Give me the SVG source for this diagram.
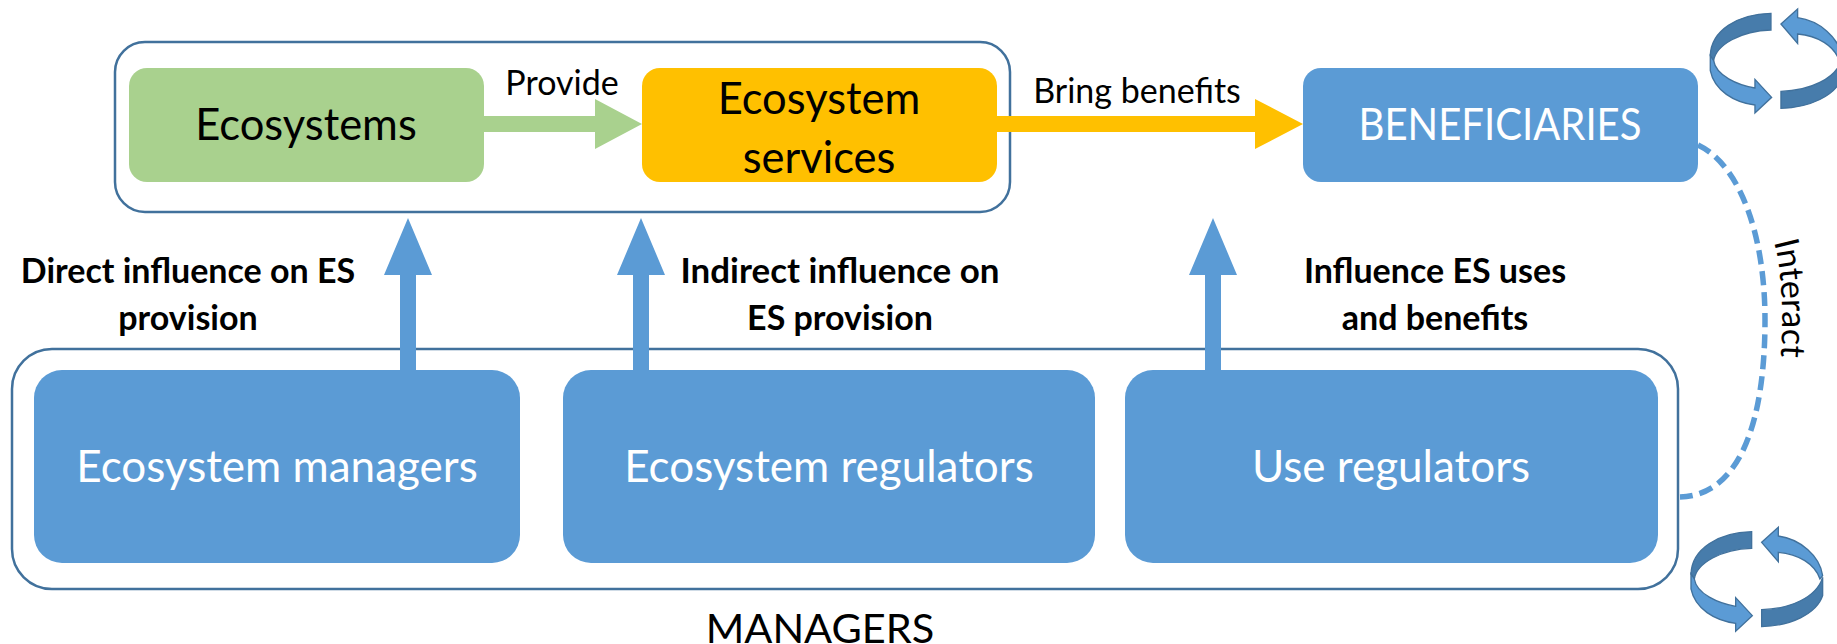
<svg xmlns="http://www.w3.org/2000/svg" xmlns:xlink="http://www.w3.org/1999/xlink" width="1837" height="644" viewBox="0 0 1837 644">
<style>
text{font-family:Lato,Carlito,"Open Sans",sans-serif;text-anchor:middle}
.outer{fill:#fff;stroke:#41719c;stroke-width:2.5}
.blue{fill:#5b9bd5}
.big{font-size:43.5px;fill:#000}
.wh{font-size:44px;fill:#fff}
.lab{font-size:34px;fill:#000}
.bold{font-size:34px;font-weight:700;fill:#000}
.dk{fill:#477cab;stroke:#41719c;stroke-width:4}
.lt{fill:#5b9bd5;stroke:#41719c;stroke-width:4}
</style>
<defs>
<g id="cycle">
<path class="dk" d="M335 53C235 55 155 105 153 180L163 195C170 148 245 105 335 103Z"/>
<path class="lt" d="M153 180L153 225C165 285 225 320 287 328L287 352L337 305L287 251L287 277C235 268 170 240 163 195Z"/>
<path class="dk" d="M365 287C450 285 530 250 548 190L548 245C530 300 450 336 365 338Z"/>
<path class="lt" d="M365 85L415 40L415 66C480 75 540 125 548 185L540 195C525 150 475 120 415 115L415 143Z"/>
</g>
</defs>
<g id="providers-frame"><rect class="outer" x="115" y="42" width="895" height="170" rx="30"/></g>
<g id="managers-frame"><rect class="outer" x="12" y="349" width="1666" height="240" rx="40"/></g>
<g id="connectors">
<path fill="#a9d18e" d="M484 116H595V99L642 124L595 149V132H484Z"/>
<path fill="#ffc000" d="M997 116H1255V99L1303 124L1255 149V132H997Z"/>
<path class="blue" d="M400 372V275H384L408 218L432 275H416V372Z"/>
<path class="blue" d="M633 372V275H617L641 218L665 275H649V372Z"/>
<path class="blue" d="M1205 372V275H1189L1213 218L1237 275H1221V372Z"/>
<path d="M1698 145C1740 165 1765 235 1765 320C1765 410 1745 495 1680 497" fill="none" stroke="#5b9bd5" stroke-width="5.5" stroke-dasharray="14 7"/>
</g>
<g id="ecosystems"><rect x="129" y="68" width="355" height="114" rx="18" fill="#a9d18e"/><text class="big" x="306" y="140">Ecosystems</text></g>
<g id="ecosystem-services"><rect x="642" y="68" width="355" height="114" rx="18" fill="#ffc000"/><text class="big" x="819" y="114">Ecosystem</text><text class="big" x="819" y="173">services</text></g>
<g id="beneficiaries"><rect class="blue" x="1303" y="68" width="395" height="114" rx="18"/><text class="wh" x="1500" y="140" textLength="283" lengthAdjust="spacingAndGlyphs">BENEFICIARIES</text></g>
<g id="ecosystem-managers"><rect class="blue" x="34" y="370" width="486" height="193" rx="28"/><text class="wh" x="277" y="482">Ecosystem managers</text></g>
<g id="ecosystem-regulators"><rect class="blue" x="563" y="370" width="532" height="193" rx="28"/><text class="wh" x="829" y="482">Ecosystem regulators</text></g>
<g id="use-regulators"><rect class="blue" x="1125" y="370" width="533" height="193" rx="28"/><text class="wh" x="1391" y="482">Use regulators</text></g>
<g id="labels">
<text class="lab" x="562" y="95">Provide</text>
<text class="lab" x="1137" y="103">Bring benefits</text>
<text class="bold" x="188" y="283">Direct influence on ES</text>
<text class="bold" x="188" y="330">provision</text>
<text class="bold" x="840" y="283" textLength="319" lengthAdjust="spacingAndGlyphs">Indirect influence on</text>
<text class="bold" x="840" y="330">ES provision</text>
<text class="bold" x="1435" y="283">Influence ES uses</text>
<text class="bold" x="1435" y="330">and benefits</text>
<text class="big" x="820" y="642.5" style="font-size:41.5px">MANAGERS</text>
<path id="ip" d="M1774 242C1782 270 1784 320 1780 366" fill="none"/>
<text class="lab" style="text-anchor:start"><textPath xlink:href="#ip" href="#ip">Interact</textPath></text>
</g>
<g id="cycle-top"><use href="#cycle" transform="translate(1659.3 -4.3) scale(.3333)"/></g>
<g id="cycle-bottom"><use href="#cycle" transform="translate(1640 514) scale(.3333)"/></g>
</svg>
